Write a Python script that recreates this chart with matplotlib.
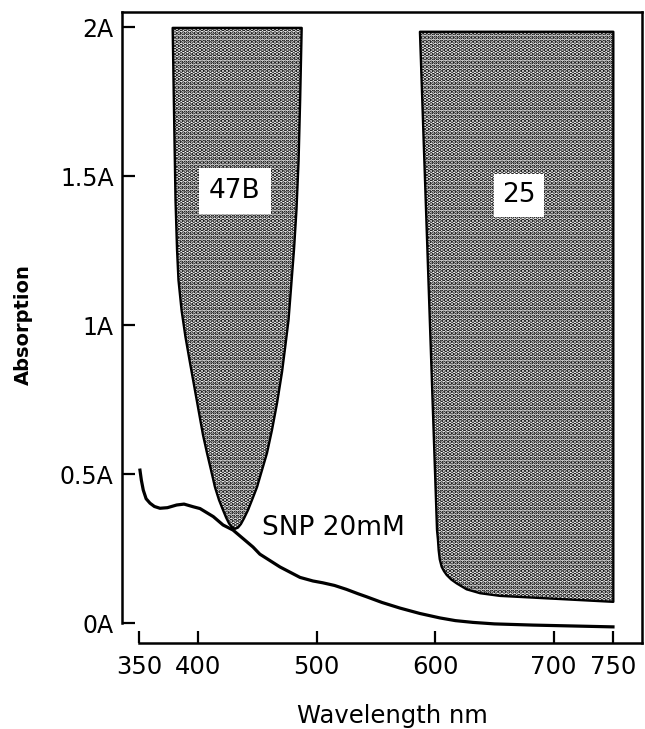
import matplotlib
matplotlib.use("Agg")
import matplotlib.pyplot as plt
from matplotlib.patches import Polygon

plt.rcParams['font.family'] = ['DejaVu Sans']
plt.rcParams['hatch.linewidth'] = 2.2

# SNP 20 mM absorption spectrum
snp_wl = [350.8, 352, 353.6, 356, 359.3, 363, 367.7, 374, 381.8, 388, 395.8, 401.5,
          412.7, 420.9, 429.3, 446.2, 452, 469, 485.9, 496.8, 505, 515, 525, 535, 542.1,
          555, 570.3, 587, 604, 617, 631.9, 650, 682.5, 750]
snp_abs = [0.514, 0.48, 0.447, 0.418, 0.403, 0.392, 0.386, 0.388, 0.397, 0.400, 0.391, 0.385,
           0.358, 0.330, 0.313, 0.256, 0.232, 0.189, 0.154, 0.142, 0.136, 0.127, 0.114, 0.099, 0.089,
           0.070, 0.051, 0.033, 0.018, 0.009, 0.003, -0.002, -0.006, -0.012]

# Filter 47B (outline: left edge top->bottom, then right edge bottom->top)
f47_wl = [378.4, 379.8, 380.8, 382.1, 383.3, 385.9, 389.2, 392.6, 396.4, 400.2, 404.0,
          407.4, 410.8, 414.1, 417.5, 420.9, 423.5, 426.0, 428.5, 431.0,
          433.5, 436.0, 438.6, 442.0, 445.4, 449.6, 453.8, 458.0, 462.2, 466.5, 470.7,
          473.6, 476.2, 478.5, 480.8, 482.9, 484.7, 486.0, 487.3]
f47_abs = [1.998, 1.656, 1.420, 1.253, 1.152, 1.051, 0.961, 0.884, 0.800, 0.716, 0.632,
           0.571, 0.514, 0.457, 0.414, 0.380, 0.355, 0.335, 0.322, 0.317,
           0.321, 0.333, 0.352, 0.380, 0.414, 0.457, 0.514, 0.571, 0.648, 0.739, 0.843,
           0.934, 1.018, 1.135, 1.253, 1.387, 1.555, 1.756, 1.998]

# Filter 25
f25_wl = [587.1, 590.5, 601.5, 602.3, 602.9, 603.8, 605.4, 607.4, 609.7, 613.5, 618.1,
          626.5, 637.8, 654.6, 750.3, 750.3]
f25_abs = [1.985, 1.588, 0.313, 0.280, 0.245, 0.215, 0.190, 0.175, 0.162, 0.147, 0.134,
           0.114, 0.101, 0.092, 0.072, 1.985]

yticks = [0, 0.5, 1, 1.5, 2]
ytick_labels = ["0A", "0.5A", "1A", "1.5A", "2A"]
xticks = [350, 400, 500, 600, 700, 750]
xtick_labels = ["350", "400", "500", "600", "700", "750"]

fig = plt.figure(figsize=(6.45, 7.29), dpi=100)
ax = fig.add_axes([122/645, 1 - 643/729, (642-122)/645, (643-12)/729])
ax.set_xlim(335.65, 774.5)
ax.set_ylim(-0.0661, 2.0513)

for wl, ab in [(f47_wl, f47_abs), (f25_wl, f25_abs)]:
    pts = list(zip(wl, ab))
    ax.add_patch(Polygon(pts, closed=True, facecolor='white', edgecolor='black',
                         linewidth=0, hatch='....', zorder=1))
    ax.add_patch(Polygon(pts, closed=True, facecolor='none', edgecolor='black',
                         linewidth=1.7, joinstyle='round', zorder=2))

ax.plot(snp_wl, snp_abs, color='black', linewidth=2.3, solid_joinstyle='round', zorder=3)

ax.text(431, 1.451, "47B", fontsize=19, ha='center', va='center', zorder=4,
        bbox=dict(facecolor='white', edgecolor='none', pad=7))
ax.text(670.7, 1.437, "25", fontsize=19, ha='center', va='center', zorder=4,
        bbox=dict(facecolor='white', edgecolor='none', pad=6))
ax.text(453.8, 0.320, "SNP 20mM", fontsize=19, ha='left', va='center', zorder=4)

for s in ax.spines.values():
    s.set_linewidth(1.8)
ax.spines['left'].set_bounds(0, 2.0513)
ax.spines['bottom'].set_bounds(350, 774.5)

ax.set_yticks(yticks)
ax.set_yticklabels(ytick_labels)
ax.set_xticks(xticks)
ax.set_xticklabels(xtick_labels)
ax.tick_params(axis='y', direction='in', length=9.5, width=1.6, labelsize=17, pad=6)
ax.tick_params(axis='x', direction='in', length=8.5, width=1.6, labelsize=17.5, pad=9)

fig.text(392/645, 1 - 716/729, "Wavelength nm", fontsize=17.5, ha='center', va='center')
fig.text(23/645, 1 - 325/729, "Absorption", fontsize=14, fontweight='bold',
         rotation=90, ha='center', va='center')

fig.savefig("out.png", dpi=100)
